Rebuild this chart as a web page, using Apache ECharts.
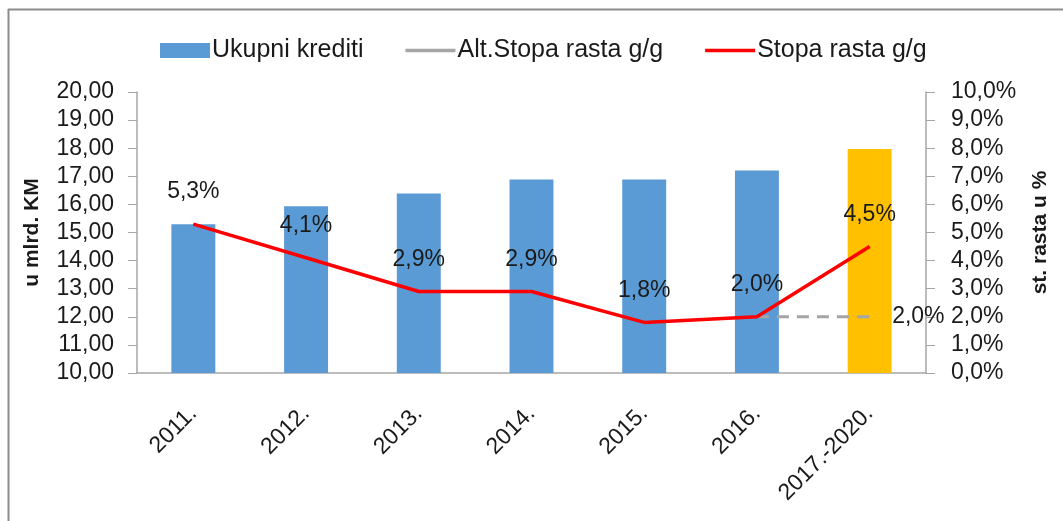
<!DOCTYPE html>
<html lang="hr">
<head>
  <meta charset="UTF-8">
  <title>Ukupni krediti</title>
  <style>
    html, body { margin: 0; padding: 0; background: #fff; }
    #chart { width: 1063px; height: 521px; }
  </style>
</head>
<body>
  <div id="chart"></div>
  <script src="https://cdn.jsdelivr.net/npm/echarts@6/dist/echarts.min.js"></script>
  <script>
    // kategorije (godine)
    var years = ['2011.', '2012.', '2013.', '2014.', '2015.', '2016.', '2017.-2020.'];
    // ukupni krediti, u mlrd. KM
    var credits = [15.29, 15.93, 16.39, 16.89, 16.89, 17.21, 17.97];
    // stopa rasta g/g, u %
    var growth = [5.3, 4.1, 2.9, 2.9, 1.8, 2.0, 4.5];
    // alternativna stopa rasta (samo zadnja dva razdoblja)
    var altGrowth = [null, null, null, null, null, 2.0, 2.0];

    var font = '"Liberation Sans", Arial, sans-serif';
    var txt = '#1a1a1a';
    var axisGrey = '#a6a6a6';
    // tanka linija kao ikona legende
    var lineIcon = 'path://M0,0L50,0L50,3.5L0,3.5Z';

    function fmtPct(v) {
      return v.toFixed(1).replace('.', ',') + '%';
    }

    var barData = credits.map(function (v, i) {
      return {
        value: v,
        itemStyle: { color: i === credits.length - 1 ? '#FFC000' : '#5B9BD5' }
      };
    });

    var altData = altGrowth.map(function (v, i) {
      if (i === altGrowth.length - 1) {
        return { value: v, label: { show: true } };
      }
      return v;
    });

    var option = {
      backgroundColor: '#fff',
      textStyle: { fontFamily: font, color: txt },
      animation: false,
      graphic: [
        { type: 'line', shape: { x1: 8, y1: 9.5, x2: 1063, y2: 9.5 }, style: { stroke: '#8c8c8c', lineWidth: 2 } },
        { type: 'line', shape: { x1: 8.5, y1: 9, x2: 8.5, y2: 521 }, style: { stroke: '#8c8c8c', lineWidth: 2 } }
      ],
      legend: {
        top: 33,
        left: 155,
        itemGap: 42,
        itemWidth: 50,
        itemHeight: 15,
        textStyle: { fontSize: 25, color: txt, fontFamily: font, padding: [0, 0, 0, -3] },
        data: [
          { name: 'Ukupni krediti', icon: 'rect', itemStyle: { color: '#5B9BD5' } },
          { name: 'Alt.Stopa rasta g/g', icon: lineIcon, itemStyle: { color: '#A5A5A5' } },
          { name: 'Stopa rasta g/g', icon: lineIcon, itemStyle: { color: '#FF0000' } }
        ]
      },
      grid: { left: 137, right: 137, top: 92, bottom: 148 },
      xAxis: {
        type: 'category',
        data: years,
        axisLine: { lineStyle: { color: axisGrey, width: 1.5 } },
        axisTick: { show: false },
        axisLabel: { rotate: 45, fontSize: 23, color: txt, margin: 37 }
      },
      yAxis: [
        {
          type: 'value',
          min: 10, max: 20, interval: 1,
          name: 'u mlrd. KM',
          nameLocation: 'middle',
          nameRotate: 90,
          nameGap: 94,
          nameTextStyle: { fontSize: 21, fontWeight: 'bold', color: txt },
          axisLine: { show: true, lineStyle: { color: axisGrey, width: 1.5 } },
          axisTick: { show: true, length: 9, lineStyle: { color: axisGrey } },
          splitLine: { show: false },
          axisLabel: {
            fontSize: 23, color: txt, margin: 23,
            formatter: function (v) { return v.toFixed(2).replace('.', ','); }
          }
        },
        {
          type: 'value',
          min: 0, max: 10, interval: 1,
          name: 'st. rasta u %',
          nameLocation: 'middle',
          nameRotate: 90,
          nameGap: 104,
          nameTextStyle: { fontSize: 21, fontWeight: 'bold', color: txt },
          axisLine: { show: true, lineStyle: { color: axisGrey, width: 1.5 } },
          axisTick: { show: true, length: 9, lineStyle: { color: axisGrey } },
          splitLine: { show: false },
          axisLabel: {
            fontSize: 23, color: txt, margin: 25,
            formatter: function (v) { return fmtPct(v); }
          }
        }
      ],
      series: [
        {
          name: 'Ukupni krediti',
          type: 'bar',
          yAxisIndex: 0,
          barWidth: '39%',
          itemStyle: { color: '#5B9BD5' },
          data: barData
        },
        {
          name: 'Alt.Stopa rasta g/g',
          type: 'line',
          yAxisIndex: 1,
          symbol: 'circle',
          symbolSize: 1,
          lineStyle: { color: '#A5A5A5', width: 3, type: [12, 8] },
          itemStyle: { color: '#A5A5A5' },
          label: {
            show: false,
            position: 'right',
            distance: 22,
            fontSize: 23,
            color: txt,
            formatter: function (p) { return fmtPct(p.value); }
          },
          data: altData
        },
        {
          name: 'Stopa rasta g/g',
          type: 'line',
          yAxisIndex: 1,
          symbol: 'circle',
          symbolSize: 1,
          lineStyle: { color: '#FF0000', width: 3.5 },
          itemStyle: { color: '#FF0000' },
          label: {
            show: true,
            position: 'top',
            distance: 20,
            fontSize: 23,
            color: txt,
            formatter: function (p) { return fmtPct(p.value); }
          },
          z: 5,
          data: growth
        }
      ]
    };

    var myChart = echarts.init(document.getElementById('chart'));
    myChart.setOption(option);
  </script>
</body>
</html>
